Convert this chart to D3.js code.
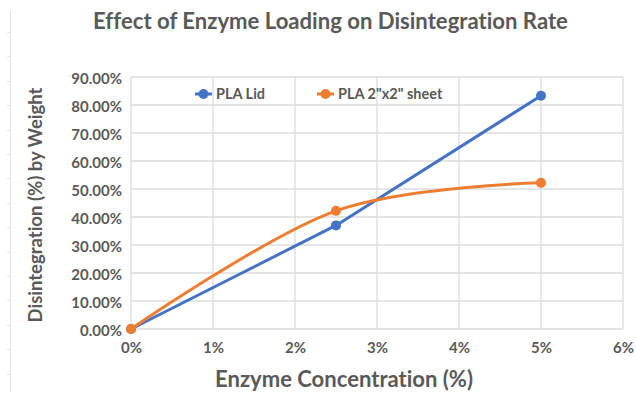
<!DOCTYPE html>
<html>
<head>
<meta charset="utf-8">
<script src="https://cdn.jsdelivr.net/npm/d3@7"></script>
<style>
  html, body { margin: 0; padding: 0; background: #fff; }
  svg, svg text {
    font-family: Lato, "Open Sans", sans-serif;
    font-variant-ligatures: none;
    font-feature-settings: "liga" 0, "clig" 0, "dlig" 0, "hlig" 0;
  }
  svg { display: block; }
</style>
</head>
<body>
<svg id="chart" width="636" height="393"></svg>
<script>
// Enzyme concentration (%) on the x axis
const concentrations = [0, 2.5, 5];
// Disintegration (%) by weight for each sample type
const lidValues = [0, 37.0, 83.3];
const sheetValues = [0, 42.2, 52.2];
const seriesNames = ["PLA Lid", "PLA 2\"x2\" sheet"];
const seriesColors = ["#4472C4", "#ED7D31"];
const xTickValues = [0, 1, 2, 3, 4, 5, 6];
const yTickValues = [0, 10, 20, 30, 40, 50, 60, 70, 80, 90];

const svg = d3.select("#chart");
const textColor = "#595959";
const fontFamily = "Lato";

const x = d3.scaleLinear().domain([0, 6]).range([131, 623]);
const y = d3.scaleLinear().domain([0, 90]).range([329, 77]);

// faint page ruler along the left edge
const ruler = svg.append("g").attr("stroke", "#e4e4e4").attr("stroke-width", 1);
ruler.append("line").attr("x1", 10.5).attr("x2", 10.5).attr("y1", 10).attr("y2", 392);
d3.range(32, 392, 24.4).forEach(v => {
  ruler.append("line").attr("x1", 7).attr("x2", 10.5)
    .attr("y1", Math.round(v) + 0.5).attr("y2", Math.round(v) + 0.5);
});

// gridlines
const grid = svg.append("g").attr("stroke", "#dcdcdc").attr("stroke-width", 1.3);
yTickValues.forEach(v => {
  grid.append("line").attr("x1", x(0)).attr("x2", x(6))
    .attr("y1", y(v)).attr("y2", y(v));
});
xTickValues.forEach(v => {
  grid.append("line").attr("x1", x(v)).attr("x2", x(v))
    .attr("y1", y(0)).attr("y2", y(90));
});

// axes (labels only, Excel style)
const yAxis = d3.axisLeft(y).tickValues(yTickValues)
  .tickFormat(d => d.toFixed(2) + "%").tickSize(0).tickPadding(9);
const gy = svg.append("g").attr("transform", `translate(${x(0)},0)`).call(yAxis);
gy.select(".domain").remove();
gy.selectAll("text").attr("fill", textColor).attr("font-size", 15)
  .attr("font-weight", 700).attr("font-family", fontFamily).attr("dy", "0.4em");

const xAxis = d3.axisBottom(x).tickValues(xTickValues)
  .tickFormat(d => d + "%").tickSize(0).tickPadding(13);
const gx = svg.append("g").attr("transform", `translate(0,${y(0)})`).call(xAxis);
gx.select(".domain").remove();
gx.selectAll("text").attr("fill", textColor).attr("font-size", 15)
  .attr("font-weight", 700).attr("font-family", fontFamily);

// series
const seriesData = [lidValues, sheetValues].map((vals, i) => ({
  name: seriesNames[i],
  color: seriesColors[i],
  curve: i === 0 ? d3.curveLinear : d3.curveCardinal.tension(0),
  points: concentrations.map((c, j) => ({ x: c, y: vals[j] }))
}));

seriesData.forEach(s => {
  const line = d3.line().x(d => x(d.x)).y(d => y(d.y)).curve(s.curve);
  svg.append("path").datum(s.points)
    .attr("d", line).attr("fill", "none")
    .attr("stroke", s.color).attr("stroke-width", 3)
    .attr("stroke-linecap", "round").attr("stroke-linejoin", "round");
  svg.append("g").selectAll("circle").data(s.points).join("circle")
    .attr("cx", d => x(d.x)).attr("cy", d => y(d.y)).attr("r", 5)
    .attr("fill", s.color);
});

// legend
const legendX = [195, 317];
const legend = svg.append("g");
seriesData.forEach((s, i) => {
  const g = legend.append("g").attr("transform", `translate(${legendX[i]},94)`);
  g.append("line").attr("x1", 0).attr("x2", 17).attr("y1", 0).attr("y2", 0)
    .attr("stroke", s.color).attr("stroke-width", 3);
  g.append("circle").attr("cx", 8.5).attr("cy", 0).attr("r", 5).attr("fill", s.color);
  g.append("text").attr("x", 21).attr("y", 0).attr("dy", "0.36em")
    .attr("fill", textColor).attr("font-size", 14.5).attr("font-weight", 700)
    .attr("font-family", fontFamily)
    .text(s.name);
});

// scale a text element's font size so it spans the given width
function fitWidth(sel, width) {
  const w = sel.node().getComputedTextLength();
  const fs = parseFloat(sel.attr("font-size"));
  sel.attr("font-size", (fs * width / w).toFixed(2));
}

const title = svg.append("text").attr("x", 330.5).attr("y", 29)
  .attr("text-anchor", "middle").attr("fill", textColor)
  .attr("font-size", 19).attr("font-weight", 700).attr("font-family", fontFamily)
  .text("Effect of Enzyme Loading on Disintegration Rate");
fitWidth(title, 475);

const xTitle = svg.append("text").attr("x", 344).attr("y", 387)
  .attr("text-anchor", "middle").attr("fill", textColor)
  .attr("font-size", 19).attr("font-weight", 700).attr("font-family", fontFamily)
  .text("Enzyme Concentration (%)");
fitWidth(xTitle, 258);

const yTitle = svg.append("text")
  .attr("transform", "translate(42,205) rotate(-90)")
  .attr("text-anchor", "middle").attr("fill", textColor)
  .attr("font-size", 19).attr("font-weight", 700).attr("font-family", fontFamily)
  .text("Disintegration (%) by Weight");
fitWidth(yTitle, 235);
</script>
</body>
</html>
